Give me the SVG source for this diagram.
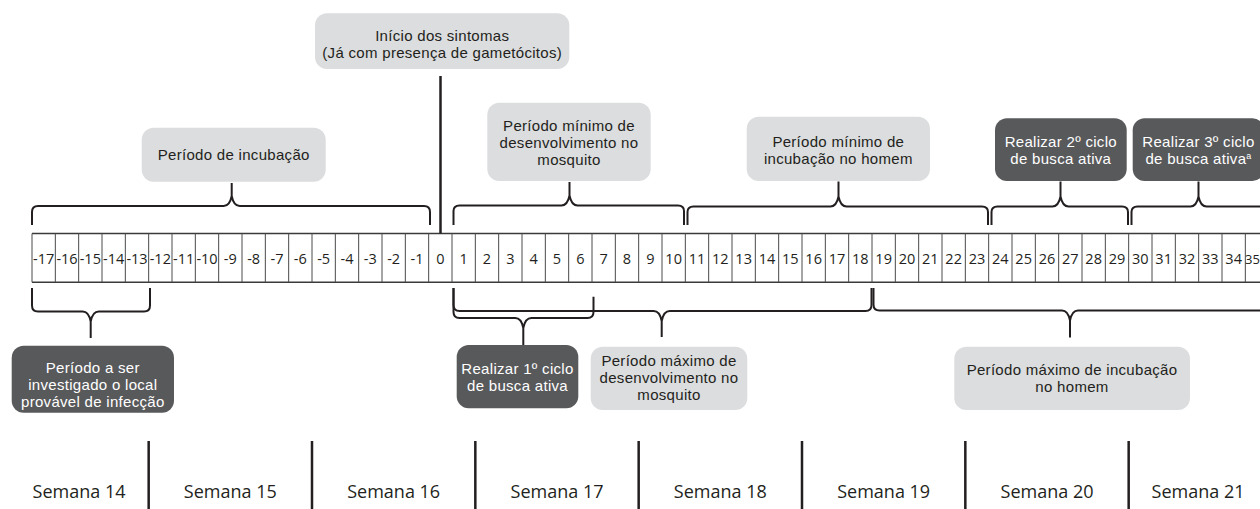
<svg xmlns="http://www.w3.org/2000/svg" width="1260" height="509" viewBox="0 0 1260 509">
<style>
text{font-family:"Open Sans","Noto Sans","Liberation Sans",sans-serif;text-anchor:middle;}
.lt{fill:#dcddde;}
.dk{fill:#58595b;}
.tl,.td{font-family:"Liberation Sans","Open Sans",sans-serif;font-size:15px;letter-spacing:0.3px;}
.tl{fill:#231f20;}
.td{fill:#ffffff;}
.num{font-size:14.5px;fill:#231f20;}
.wk{font-size:18px;fill:#231f20;}
.br{fill:none;stroke:#231f20;stroke-width:2;stroke-linejoin:round;}
.sep{stroke:#231f20;stroke-width:2.5;}
</style>
<rect width="1260" height="509" fill="#ffffff"/>

<g id="timeline">
<path d="M32,233.5 H1270 M32,282.3 H1270" stroke="#3a3a3a" stroke-width="1.5" fill="none"/>
<path stroke="#4a4a4a" stroke-width="1" fill="none" d="M32,233.5V282.3M55.33,233.5V282.3M78.67,233.5V282.3M102,233.5V282.3M125.33,233.5V282.3M148.67,233.5V282.3M172,233.5V282.3M195.33,233.5V282.3M218.67,233.5V282.3M242,233.5V282.3M265.33,233.5V282.3M288.67,233.5V282.3M312,233.5V282.3M335.33,233.5V282.3M358.67,233.5V282.3M382,233.5V282.3M405.33,233.5V282.3M428.67,233.5V282.3M452,233.5V282.3M475.33,233.5V282.3M498.67,233.5V282.3M522,233.5V282.3M545.33,233.5V282.3M568.67,233.5V282.3M592,233.5V282.3M615.33,233.5V282.3M638.67,233.5V282.3M662,233.5V282.3M685.33,233.5V282.3M708.67,233.5V282.3M732,233.5V282.3M755.33,233.5V282.3M778.67,233.5V282.3M802,233.5V282.3M825.33,233.5V282.3M848.67,233.5V282.3M872,233.5V282.3M895.33,233.5V282.3M918.67,233.5V282.3M942,233.5V282.3M965.33,233.5V282.3M988.67,233.5V282.3M1012,233.5V282.3M1035.33,233.5V282.3M1058.67,233.5V282.3M1082,233.5V282.3M1105.33,233.5V282.3M1128.67,233.5V282.3M1152,233.5V282.3M1175.33,233.5V282.3M1198.67,233.5V282.3M1222,233.5V282.3M1245.33,233.5V282.3"/>
<g class="num">
<text x="43.67" y="264">-17</text><text x="67" y="264">-16</text><text x="90.33" y="264">-15</text><text x="113.67" y="264">-14</text><text x="137" y="264">-13</text><text x="160.33" y="264">-12</text><text x="183.67" y="264">-11</text><text x="207" y="264">-10</text><text x="230.33" y="264">-9</text><text x="253.67" y="264">-8</text><text x="277" y="264">-7</text><text x="300.33" y="264">-6</text><text x="323.67" y="264">-5</text><text x="347" y="264">-4</text><text x="370.33" y="264">-3</text><text x="393.67" y="264">-2</text><text x="417" y="264">-1</text><text x="440.33" y="264">0</text>
<text x="463.67" y="264">1</text><text x="487" y="264">2</text><text x="510.33" y="264">3</text><text x="533.67" y="264">4</text><text x="557" y="264">5</text><text x="580.33" y="264">6</text><text x="603.67" y="264">7</text><text x="627" y="264">8</text><text x="650.33" y="264">9</text><text x="673.67" y="264">10</text><text x="697" y="264">11</text><text x="720.33" y="264">12</text><text x="743.67" y="264">13</text><text x="767" y="264">14</text><text x="790.33" y="264">15</text><text x="813.67" y="264">16</text><text x="837" y="264">17</text><text x="860.33" y="264">18</text><text x="883.67" y="264">19</text><text x="907" y="264">20</text><text x="930.33" y="264">21</text><text x="953.67" y="264">22</text><text x="977" y="264">23</text><text x="1000.33" y="264">24</text><text x="1023.67" y="264">25</text><text x="1047" y="264">26</text><text x="1070.33" y="264">27</text><text x="1093.67" y="264">28</text><text x="1117" y="264">29</text><text x="1140.33" y="264">30</text><text x="1163.67" y="264">31</text><text x="1187" y="264">32</text><text x="1210.33" y="264">33</text><text x="1233.67" y="264">34</text><text x="1252.4" y="264" font-size="13">35</text>
</g>
</g>

<g id="connectors">
<line x1="440.5" y1="76" x2="440.5" y2="233.5" stroke="#231f20" stroke-width="2.5"/>
<path class="br" d="M32,225 V212 Q32,206 38,206 H223.7 Q229.7,206 231.7,196 Q233.7,206 239.7,206 H424 Q430,206 430,212 V225 M231.7,196 V183"/>
<path class="br" d="M453.5,225 V211 Q453.5,205.5 459.5,205.5 H561.5 Q567.5,205.5 569.5,195.5 Q571.5,205.5 577.5,205.5 H678 Q684,205.5 684,211 V225 M569.5,195.5 V182"/>
<path class="br" d="M687.5,225 V212 Q687.5,206.5 693.5,206.5 H830.5 Q836.5,206.5 838.5,196.5 Q840.5,206.5 846.5,206.5 H982 Q988,206.5 988,212 V225 M838.5,196.5 V181.5"/>
<path class="br" d="M991.5,225 V212 Q991.5,206.5 997.5,206.5 H1052.5 Q1058.5,206.5 1060.5,196.5 Q1062.5,206.5 1068.5,206.5 H1122 Q1128,206.5 1128,212 V225 M1060.5,196.5 V181.5"/>
<path class="br" d="M1131.5,225 V212 Q1131.5,206.5 1137.5,206.5 H1190.5 Q1196.5,206.5 1198.5,196.5 Q1200.5,206.5 1206.5,206.5 H1284 Q1290,206.5 1290,212 V225 M1198.5,196.5 V181.5"/>
<path class="br" d="M32,288 V305.5 Q32,311.5 38,311.5 H82.7 Q88.7,311.5 90.7,321.5 Q92.7,311.5 98.7,311.5 H144 Q150,311.5 150,305.5 V288 M90.7,321.5 V338"/>
<path class="br" d="M453.5,288 V312 Q453.5,318 459.5,318 H515.3 Q521.3,318 523.3,328 Q525.3,318 531.3,318 H587.5 Q593.5,318 593.5,312 V296.7 M523.3,328 V345"/>
<path class="br" d="M453.5,288 V305 Q453.5,311 459.5,311 H653.7 Q659.7,311 661.7,321 Q663.7,311 669.7,311 H865.5 Q871.5,311 871.5,305 V288 M661.7,321 V337"/>
<path class="br" d="M873.5,288 V304.5 Q873.5,310.5 879.5,310.5 H1062 Q1068,310.5 1070,320.5 Q1072,310.5 1078,310.5 H1284 Q1290,310.5 1290,304.5 V288 M1070,320.5 V337.5"/>
<path class="sep" d="M148.67,441 V509 M312,441 V509 M475.33,441 V509 M638.67,441 V509 M802,441 V509 M965.33,441 V509 M1128.67,441 V509"/>
</g>

<g id="node-inicio">
<rect class="lt" x="315" y="13.3" width="254.3" height="55.7" rx="12"/>
<text class="tl" x="442.2" y="40.7">Início dos sintomas</text>
<text class="tl" x="442.2" y="57.7">(Já com presença de gametócitos)</text>
</g>
<g id="node-incubacao">
<rect class="lt" x="141.7" y="127.7" width="184" height="54" rx="12"/>
<text class="tl" x="233.7" y="160">Período de incubação</text>
</g>
<g id="node-min-mosquito">
<rect class="lt" x="487.3" y="102.7" width="163.4" height="78.3" rx="12"/>
<text class="tl" x="569" y="131">Período mínimo de</text>
<text class="tl" x="569" y="148">desenvolvimento no</text>
<text class="tl" x="569" y="165">mosquito</text>
</g>
<g id="node-min-homem">
<rect class="lt" x="746.7" y="116.7" width="183.3" height="64.3" rx="12"/>
<text class="tl" x="838.3" y="146.6">Período mínimo de</text>
<text class="tl" x="838.3" y="163.6">incubação no homem</text>
</g>
<g id="node-ciclo2">
<rect class="dk" x="995" y="118.3" width="131.7" height="62.7" rx="12"/>
<text class="td" x="1060.8" y="146.8">Realizar 2º ciclo</text>
<text class="td" x="1060.8" y="163.8">de busca ativa</text>
</g>
<g id="node-ciclo3">
<rect class="dk" x="1132.7" y="118.3" width="131.7" height="62.7" rx="12"/>
<text class="td" x="1198.5" y="146.8">Realizar 3º ciclo</text>
<text class="td" x="1198.5" y="163.8">de busca ativa<tspan font-size="9" dy="-5">a</tspan></text>
</g>
<g id="node-investigado">
<rect class="dk" x="11.7" y="345.7" width="162.3" height="67" rx="12"/>
<text class="td" x="92.8" y="372.9">Período a ser</text>
<text class="td" x="92.8" y="389.9">investigado o local</text>
<text class="td" x="92.8" y="406.9">provável de infecção</text>
</g>
<g id="node-ciclo1">
<rect class="dk" x="456.7" y="345" width="121.6" height="63.3" rx="12"/>
<text class="td" x="517.5" y="373.5">Realizar 1º ciclo</text>
<text class="td" x="517.5" y="390.5">de busca ativa</text>
</g>
<g id="node-max-mosquito">
<rect class="lt" x="590.7" y="346.7" width="156.6" height="63.3" rx="12"/>
<text class="tl" x="669" y="365.8">Período máximo de</text>
<text class="tl" x="669" y="382.8">desenvolvimento no</text>
<text class="tl" x="669" y="399.8">mosquito</text>
</g>
<g id="node-max-homem">
<rect class="lt" x="954.3" y="346.7" width="235.7" height="63.3" rx="12"/>
<text class="tl" x="1072" y="374.5">Período máximo de incubação</text>
<text class="tl" x="1072" y="391.5">no homem</text>
</g>

<g id="weeks" class="wk">
<text x="79" y="498">Semana 14</text>
<text x="230.3" y="498">Semana 15</text>
<text x="393.7" y="498">Semana 16</text>
<text x="557" y="498">Semana 17</text>
<text x="720.3" y="498">Semana 18</text>
<text x="883.7" y="498">Semana 19</text>
<text x="1047" y="498">Semana 20</text>
<text x="1198" y="498">Semana 21</text>
</g>
</svg>
